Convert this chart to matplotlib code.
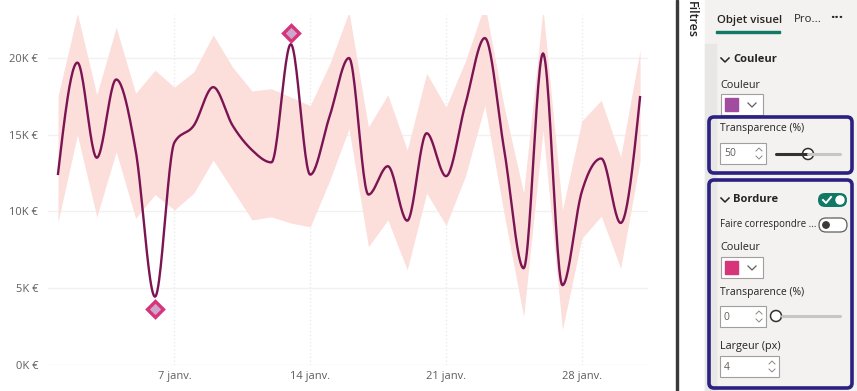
import numpy as np
import matplotlib
matplotlib.use('Agg')
import matplotlib.pyplot as plt
from matplotlib.patches import Rectangle, FancyBboxPatch, Circle

plt.rcParams['font.family'] = ['Open Sans', 'DejaVu Sans']

# daily sales (EUR), expected range and anomaly markers
days = list(range(1, 32))
sales = [12450, 19700, 13500, 18600, 14000, 4450, 14500, 15600, 18100, 15600,
         14000, 13200, 20900, 12400, 16200, 20000, 11100, 12950, 9400, 15100,
         12300, 17000, 21300, 14000, 6300, 20300, 5200, 11300, 13450, 9250, 17450]
band_high = [17500, 22900, 17600, 22000, 17700, 19200, 18100, 19100, 21500, 19400,
             17850, 18000, 17450, 16900, 19600, 23000, 15500, 17600, 14000, 19000,
             16800, 19800, 23500, 16800, 11200, 23200, 10100, 15900, 17250, 13550, 20500]
band_low = [9300, 15000, 9650, 13900, 9550, 11100, 10100, 11200, 13350, 11400,
            9450, 9650, 9250, 9000, 12000, 15400, 7700, 9450, 6200, 11200,
            9100, 12300, 16900, 9800, 3150, 15300, 2300, 8250, 9700, 6300, 13300]
anomaly_days = [6, 13]
anomaly_marks = [3650, 21650]

week_ticks = [7, 14, 21, 28]
week_labels = ['7 janv.', '14 janv.', '21 janv.', '28 janv.']
y_ticks = [0, 5000, 10000, 15000, 20000]
y_labels = ['0K €', '5K €', '10K €', '15K €', '20K €']


def smooth_monotone(x, y, n=24):
    '''Monotone cubic curve through the points (like d3 curveMonotoneX).'''
    x = np.asarray(x, float)
    y = np.asarray(y, float)
    h = np.diff(x)
    s = np.diff(y) / h
    t = np.zeros_like(y)
    for i in range(1, len(y) - 1):
        p = (s[i - 1] * h[i] + s[i] * h[i - 1]) / (h[i - 1] + h[i])
        t[i] = (np.sign(s[i - 1]) + np.sign(s[i])) * min(abs(s[i - 1]), abs(s[i]), 0.5 * abs(p))
    t[0] = (3 * s[0] - t[1]) / 2
    t[-1] = (3 * s[-1] - t[-2]) / 2
    xs, ys = [], []
    for i in range(len(h)):
        u = np.linspace(0, 1, n, endpoint=False)
        h00 = 2 * u**3 - 3 * u**2 + 1
        h10 = u**3 - 2 * u**2 + u
        h01 = -2 * u**3 + 3 * u**2
        h11 = u**3 - u**2
        xs.append(x[i] + u * h[i])
        ys.append(h00 * y[i] + h10 * h[i] * t[i] + h01 * y[i + 1] + h11 * h[i] * t[i + 1])
    xs.append([x[-1]])
    ys.append([y[-1]])
    return np.concatenate(xs), np.concatenate(ys)


fig = plt.figure(figsize=(8.57, 3.91), dpi=100)
fig.patch.set_facecolor('white')

ax = fig.add_axes([48 / 857, 26 / 391, 600 / 857, 350 / 391])
ax.fill_between(days, band_low, band_high, color='#fcdedb', lw=0, zorder=1)
sx, sy = smooth_monotone(days, sales)
ax.plot(sx, sy, color='#7b1453', lw=1.7, zorder=3)
ax.plot(anomaly_days, anomaly_marks, ls='none', marker='D', ms=8.5,
        mfc='#cfa6cb', mec='#d6357a', mew=2.4, zorder=5, clip_on=False)

ax.set_xlim(0.485, 31.41)
ax.set_ylim(0, 22800)
ax.set_xticks(week_ticks, week_labels)
ax.set_yticks(y_ticks, y_labels)
ax.tick_params(length=0, labelsize=8, colors='#605e5c')
ax.tick_params(axis='y', pad=7)
ax.tick_params(axis='x', pad=4)
ax.grid(axis='y', color='#f1f1f1', lw=1)
ax.grid(axis='x', color='#ebebeb', lw=1, ls=':')
ax.set_axisbelow(True)
for sp in ax.spines.values():
    sp.set_visible(False)

# format pane on the right, drawn in pixel coordinates
ov = fig.add_axes([0, 0, 1, 1])
ov.set_xlim(0, 857)
ov.set_ylim(391, 0)
ov.axis('off')
ov.patch.set_alpha(0)

dark = '#252423'
ov.add_patch(Rectangle((676.5, 0), 1.3, 391, color='#3b3a39'))
ov.add_patch(Rectangle((705, 0), 152, 391, color='#f3f2f1'))
ov.add_patch(Rectangle((705, 44), 11, 347, color='#e8e7e6'))
ov.text(691, 1, 'Filtres', rotation=270, ha='center', va='top', fontsize=9,
        weight='semibold', color=dark)

ov.text(717, 20, 'Objet visuel', fontsize=8.2, va='center', color=dark, weight='semibold')
ov.add_patch(Rectangle((716, 31), 64, 2, color='#117865'))
ov.text(794, 20, 'Pro...', fontsize=8.2, va='center', color=dark)
ov.text(837, 18, '···', fontsize=11, va='center', ha='center', color=dark, weight='bold')


def chevron(x, y):
    ov.plot([x, x + 4, x + 8], [y - 2, y + 2, y - 2], color=dark, lw=1.1)


def spinbox(x, y, w, val):
    ov.add_patch(Rectangle((x, y), w, 21, fc='white', ec='#a19f9d', lw=0.8))
    ov.text(x + 4, y + 11, val, fontsize=7.5, va='center', color='#605e5c')
    ax_ = x + w - 7
    ov.plot([ax_ - 3, ax_, ax_ + 3], [y + 8, y + 5, y + 8], color='#8a8886', lw=0.7)
    ov.plot([ax_ - 3, ax_, ax_ + 3], [y + 13, y + 16, y + 13], color='#8a8886', lw=0.7)


def swatch(y, color):
    ov.add_patch(Rectangle((721, y), 42, 21, fc='white', ec='#a19f9d', lw=0.8))
    ov.add_patch(Rectangle((725, y + 4), 13, 13, color=color))
    ov.plot([748, 752, 756], [y + 9, y + 13, y + 9], color='#605e5c', lw=0.9)


chevron(721, 60)
ov.text(733, 60, 'Couleur', fontsize=8, va='center', weight='bold', color=dark)
ov.text(720, 85, 'Couleur', fontsize=7.8, va='center', color=dark)
swatch(94, '#a24ca0')

ov.add_patch(FancyBboxPatch((709, 117), 143, 56, boxstyle='round,pad=0,rounding_size=5',
                            fc='none', ec='#2a2180', lw=2.6))
ov.text(720, 129, 'Transparence (%)', fontsize=7.5, va='center', color=dark)
spinbox(720, 143, 46, '50')
ov.plot([776, 808], [154, 154], color='#323130', lw=2.2, solid_capstyle='round')
ov.plot([808, 840], [154, 154], color='#c8c6c4', lw=2.2, solid_capstyle='round')
ov.add_patch(Circle((808, 154), 5.5, fc='white', ec='#323130', lw=1.1))

ov.add_patch(FancyBboxPatch((709, 180), 143, 208, boxstyle='round,pad=0,rounding_size=5',
                            fc='none', ec='#2a2180', lw=2.6))
chevron(721, 200)
ov.text(733, 200, 'Bordure', fontsize=8, va='center', weight='bold', color=dark)
ov.add_patch(FancyBboxPatch((818, 193), 29, 14, boxstyle='round,pad=0,rounding_size=7',
                            fc='#117865', ec='none'))
ov.plot([823, 826, 831], [200, 203, 197], color='white', lw=1.4)
ov.add_patch(Circle((840, 200), 4, color='white'))

ov.text(720, 224, 'Faire correspondre ...', fontsize=6.9, va='center', color=dark)
ov.add_patch(FancyBboxPatch((819, 218), 28, 14, boxstyle='round,pad=0,rounding_size=7',
                            fc='white', ec='#605e5c', lw=0.9))
ov.add_patch(Circle((826, 225), 3.2, color='#3b3a39'))

ov.text(720, 248, 'Couleur', fontsize=7.8, va='center', color=dark)
swatch(257, '#d6357a')
ov.text(720, 293, 'Transparence (%)', fontsize=7.5, va='center', color=dark)
spinbox(720, 306, 46, '0')
ov.plot([782, 840], [316, 316], color='#c8c6c4', lw=2.2, solid_capstyle='round')
ov.add_patch(Circle((776, 316), 5.5, fc='white', ec='#323130', lw=1.1))
ov.text(720, 347, 'Largeur (px)', fontsize=7.8, va='center', color=dark)
spinbox(720, 356, 59, '4')

fig.savefig('out.png', dpi=100)
